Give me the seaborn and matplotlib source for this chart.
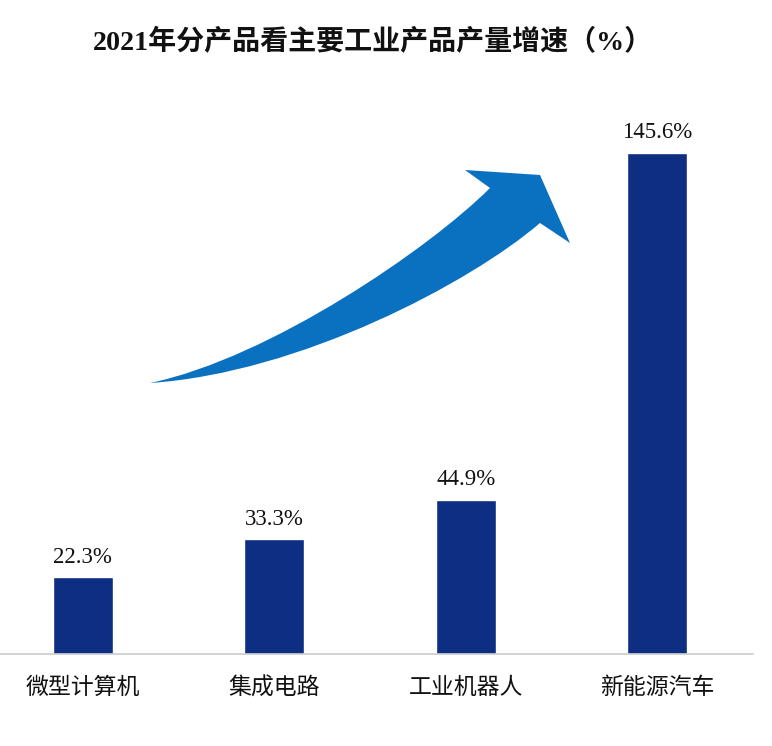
import numpy as np
import pandas as pd
import matplotlib.pyplot as plt
import seaborn as sns
from matplotlib.path import Path
from matplotlib.patches import PathPatch

# -------------------------------------------------------
# Dane
# -------------------------------------------------------
produkty = ['微型计算机', '集成电路', '工业机器人', '新能源汽车']
wzrost = [22.3, 33.3, 44.9, 145.6]
etykiety = ['22.3%', '33.3%', '44.9%', '145.6%']

df = pd.DataFrame({'产品': produkty, '增速': wzrost})

sns.set_style('white')
plt.rcParams['font.family'] = ['Noto Sans CJK SC', 'DejaVu Sans']

fig = plt.figure(figsize=(7.72, 7.46), dpi=100)
ax = fig.add_axes([0.0, 0.1233, 0.9754, 0.7426])

sns.barplot(data=df, x='产品', y='增速', color='#0d2e82', width=0.313,
            saturation=1, ax=ax)

# Etykiety wartości nad słupkami
for p, txt in zip(ax.patches, etykiety):
    ax.annotate(txt, (p.get_x() + p.get_width() / 2., p.get_height()),
                ha='center', va='bottom', xytext=(0, 7), textcoords='offset points',
                fontsize=16.5, family=['Liberation Serif'], color='#111111')

ax.set_xlim(-0.433, 3.5)
ax.set_ylim(0, 161)
ax.set_xlabel('')
ax.set_ylabel('')
ax.set_yticks([])
ax.tick_params(axis='x', length=0, pad=16, labelsize=16.5, labelcolor='#111111')
for s in ['top', 'right', 'left']:
    ax.spines[s].set_visible(False)
ax.spines['bottom'].set_color('#cccccc')
ax.spines['bottom'].set_linewidth(1.2)

# Tytuł
fig.text(0.483, 0.943, '2021年分产品看主要工业产品产量增速（%）', ha='center', va='center',
         fontsize=20.2, fontweight='bold', family=['Liberation Serif', 'Noto Sans CJK SC'],
         color='#111111')

# Zakrzywiona strzałka (dekoracja), współrzędne w pikselach obrazu
def px(x, y):
    return (x / 772.0, 1 - y / 746.0)

pts = [(150, 383), (270, 358), (430, 248), (490, 188),
       (465, 170), (540, 175), (570, 243), (540, 223),
       (470, 283), (300, 373), (150, 383), (150, 383)]
codes = [Path.MOVETO, Path.CURVE4, Path.CURVE4, Path.CURVE4,
         Path.LINETO, Path.LINETO, Path.LINETO, Path.LINETO,
         Path.CURVE4, Path.CURVE4, Path.CURVE4, Path.CLOSEPOLY]
sciezka = Path([px(x, y) for x, y in pts], codes)
fig.patches.append(PathPatch(sciezka, transform=fig.transFigure,
                             facecolor='#0a70c0', edgecolor='none'))

plt.savefig('out.png', dpi=100)
plt.close()
